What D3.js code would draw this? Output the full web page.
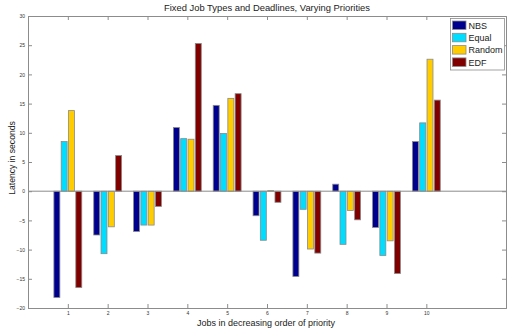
<!DOCTYPE html>
<html>
<head>
<meta charset="utf-8">
<script src="https://cdn.jsdelivr.net/npm/d3@7"></script>
<style>
  body { margin: 0; background: #fff; }
  svg { display: block; font-family: "Liberation Sans", Arial, sans-serif; }
</style>
</head>
<body>
<div id="chart"></div>
<script>
// values
var jobs = [1, 2, 3, 4, 5, 6, 7, 8, 9, 10]
var series = ["NBS", "Equal", "Random", "EDF"]
var colors = ["#00008f", "#00ddff", "#ffcc00", "#800000"]
var nbs    = [-18.2, -7.5, -6.9, 10.9, 14.7, -4.2, -14.6, 1.2, -6.2, 8.5]
var equal  = [8.5, -10.7, -5.8, 9.0, 9.9, -8.4, -3.1, -9.1, -11.0, 11.7]
var random = [13.8, -6.1, -5.8, 8.9, 15.9, 0.1, -9.9, -3.3, -8.5, 22.6]
var edf    = [-16.5, 6.1, -2.6, 25.3, 16.7, -1.9, -10.6, -4.9, -14.1, 15.6]
var yTicks = [-20, -15, -10, -5, 0, 5, 10, 15, 20, 25, 30]

var values = [nbs, equal, random, edf]

var width = 507, height = 333
var margin = {top: 16, right: 1, bottom: 25, left: 28}

var svg = d3.select("#chart").append("svg")
    .attr("width", width).attr("height", height)

var x = d3.scaleLinear().domain([0, 12]).range([margin.left, width - margin.right])
var y = d3.scaleLinear().domain([-20, 30]).range([height - margin.bottom, margin.top])

var axisColor = "#8c8c8c"

// bars
var offsets = [-0.275, -0.092, 0.092, 0.275]
var bw = 0.15

series.forEach(function (s, si) {
  svg.append("g")
    .selectAll("rect")
    .data(values[si])
    .join("rect")
      .attr("x", (d, i) => x(jobs[i] + offsets[si] - bw / 2))
      .attr("width", x(bw) - x(0))
      .attr("y", d => y(Math.max(0, d)))
      .attr("height", d => Math.abs(y(d) - y(0)))
      .attr("fill", colors[si])
      .attr("stroke", "#8a8a8a")
      .attr("stroke-width", 0.8)
})

// zero line
svg.append("line")
    .attr("x1", x(0)).attr("x2", x(12))
    .attr("y1", y(0)).attr("y2", y(0))
    .attr("stroke", axisColor).attr("stroke-width", 1)

// axes (matlab box with inward ticks)
var axisB = d3.axisBottom(x).tickValues(jobs).tickSize(-4).tickPadding(3).tickFormat(d3.format("d"))
var axisT = d3.axisTop(x).tickValues(jobs).tickSize(-4).tickFormat("")
var axisL = d3.axisLeft(y).tickValues(yTicks).tickSize(-4).tickPadding(3).tickFormat(d3.format("d"))
var axisR = d3.axisRight(y).tickValues(yTicks).tickSize(-4).tickFormat("")

function styleAxis(g) {
  g.selectAll("path").attr("stroke", axisColor)
  g.selectAll("line").attr("stroke", axisColor)
  g.selectAll("text").attr("fill", "#333").attr("font-size", 5)
}

svg.append("g").attr("transform", "translate(0," + y(-20) + ")").call(axisB).call(styleAxis)
svg.append("g").attr("transform", "translate(0," + y(30) + ")").call(axisT).call(styleAxis)
svg.append("g").attr("transform", "translate(" + x(0) + ",0)").call(axisL).call(styleAxis)
svg.append("g").attr("transform", "translate(" + x(12) + ",0)").call(axisR).call(styleAxis)

// labels
svg.append("text")
    .attr("x", 267).attr("y", 11)
    .attr("text-anchor", "middle")
    .attr("font-size", 9.4).attr("fill", "#222")
    .text("Fixed Job Types and Deadlines, Varying Priorities")

svg.append("text")
    .attr("x", 266).attr("y", 326)
    .attr("text-anchor", "middle")
    .attr("font-size", 9).attr("fill", "#222")
    .text("Jobs in decreasing order of priority")

svg.append("text")
    .attr("transform", "translate(15,158) rotate(-90)")
    .attr("text-anchor", "middle")
    .attr("font-size", 8.6).attr("fill", "#222")
    .text("Latency in seconds")

// legend
var lg = svg.append("g").attr("transform", "translate(450.5,18.5)")
lg.append("rect")
    .attr("width", 54).attr("height", 51.5)
    .attr("fill", "#fff").attr("stroke", axisColor).attr("stroke-width", 0.8)

var row = lg.selectAll("g.row")
    .data(series)
    .join("g")
      .attr("class", "row")
      .attr("transform", (d, i) => "translate(2," + (2.5 + i * 12.3) + ")")

row.append("rect")
    .attr("width", 13.5).attr("height", 8.5)
    .attr("fill", (d, i) => colors[i])
    .attr("stroke", "#8a8a8a").attr("stroke-width", 0.8)

row.append("text")
    .attr("x", 16).attr("y", 7.8)
    .attr("font-size", 9).attr("fill", "#222")
    .text(d => d)
</script>
</body>
</html>
